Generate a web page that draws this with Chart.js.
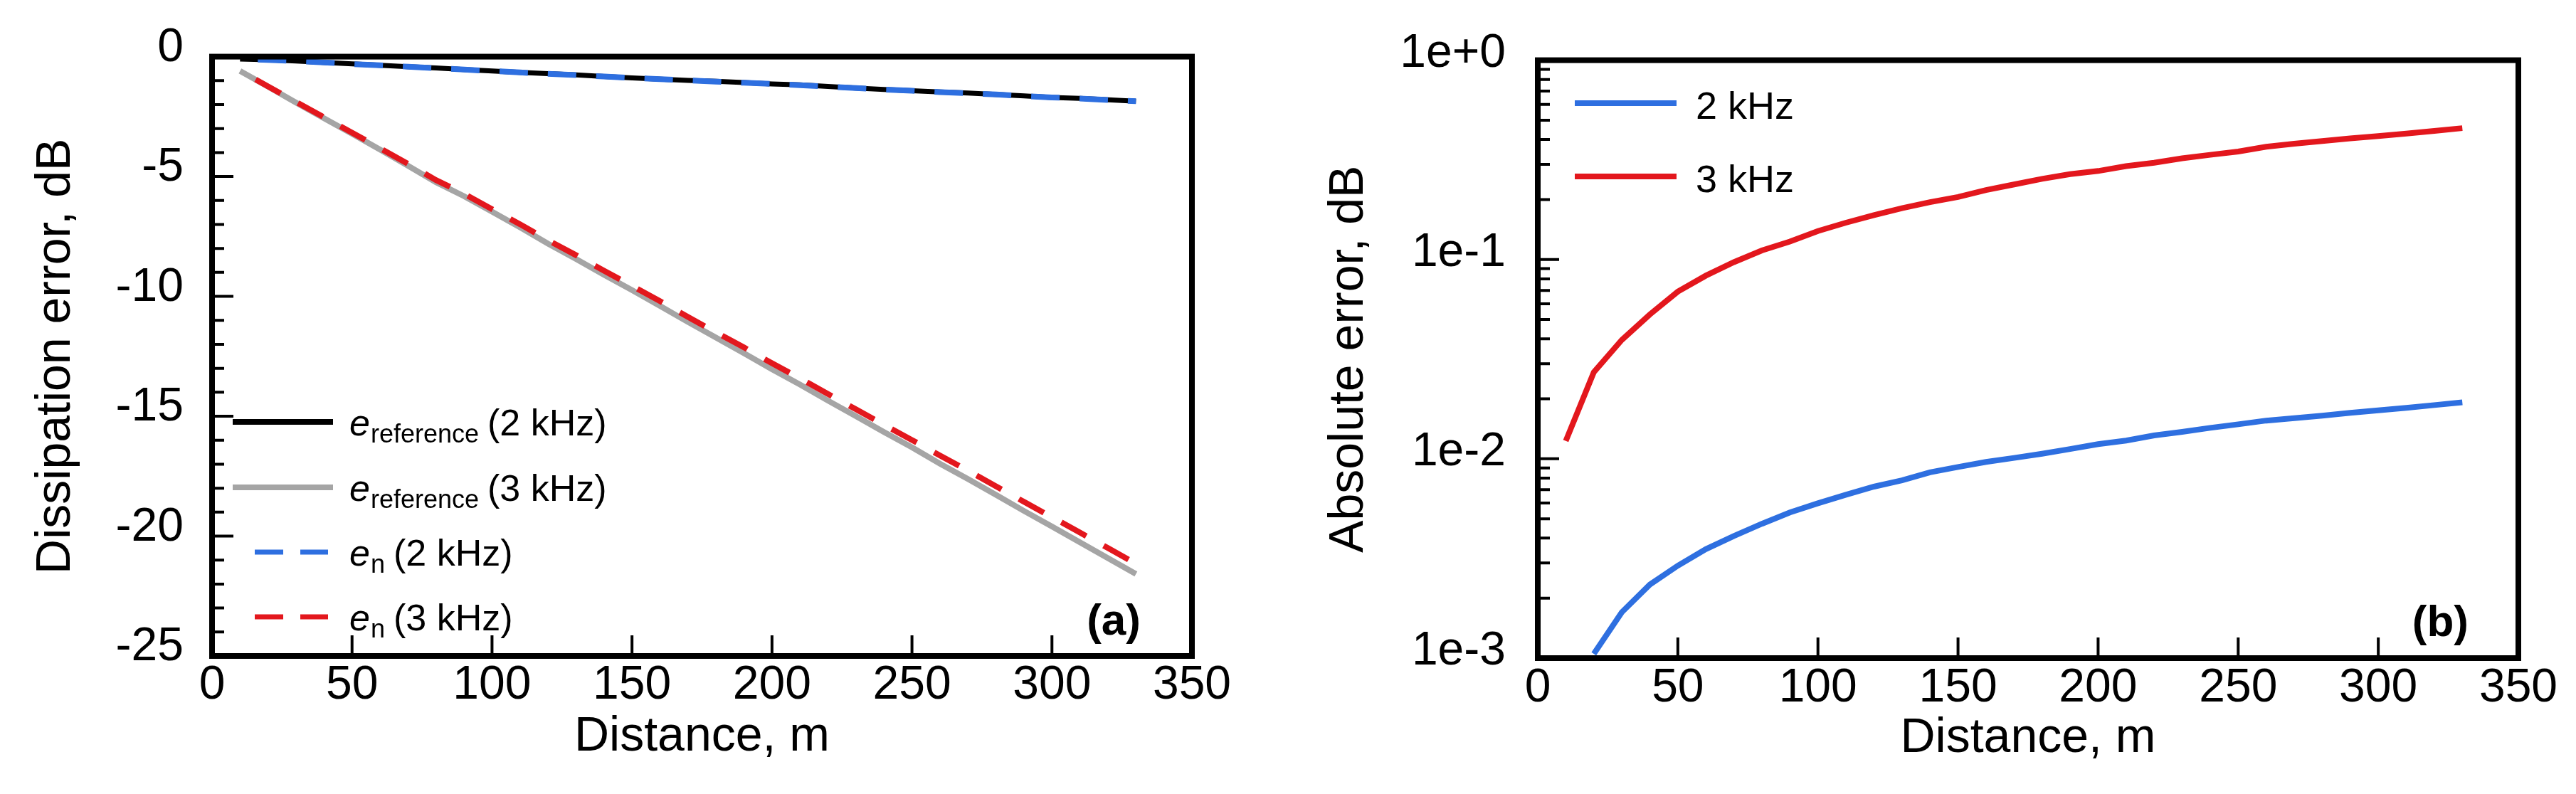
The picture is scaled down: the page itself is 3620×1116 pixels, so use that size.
<!DOCTYPE html>
<html>
<head>
<meta charset="utf-8">
<script src="https://cdn.jsdelivr.net/npm/chart.js@4.4.0/dist/chart.umd.min.js"></script>
<style>
  html, body { margin: 0; padding: 0; background: #fff; }
  body { width: 3620px; height: 1116px; position: relative; overflow: hidden; }
  canvas { position: absolute; top: 0; }
  #chartA { left: 0; }
  #chartB { left: 1800px; }
</style>
</head>
<body>
<canvas id="chartA" width="1800" height="1116"></canvas>
<canvas id="chartB" width="1820" height="1116"></canvas>
<script>
// distance along the path, m
var distance = [10, 20, 30, 40, 50, 60, 70, 80, 90, 100, 110, 120, 130, 140, 150, 160, 170,
  180, 190, 200, 210, 220, 230, 240, 250, 260, 270, 280, 290, 300, 310, 320, 330];

// (a) dissipation error, dB
var refErr2k = [-0.10, -0.13, -0.18, -0.24, -0.30, -0.36, -0.42, -0.47, -0.54, -0.60, -0.66, -0.71, -0.76,
  -0.83, -0.89, -0.94, -0.99, -1.03, -1.08, -1.14, -1.18, -1.24, -1.31, -1.37, -1.42, -1.47, -1.52,
  -1.58, -1.64, -1.70, -1.74, -1.80, -1.86];
var refErr3k = [-0.60, -1.25, -1.92, -2.57, -3.22, -3.88, -4.55, -5.24, -5.82, -6.47, -7.12, -7.80, -8.44,
  -9.10, -9.74, -10.40, -11.07, -11.72, -12.37, -13.04, -13.68, -14.35, -15.00, -15.66, -16.30, -16.98,
  -17.62, -18.28, -18.95, -19.60, -20.26, -20.92, -21.58];
var numErr2k = [-0.10, -0.14, -0.18, -0.24, -0.31, -0.36, -0.42, -0.48, -0.54, -0.60, -0.66, -0.72, -0.77,
  -0.83, -0.89, -0.94, -0.99, -1.04, -1.09, -1.14, -1.19, -1.25, -1.31, -1.37, -1.42, -1.48, -1.53,
  -1.58, -1.64, -1.70, -1.75, -1.81, -1.86];
var numErr3k = [-0.60, -1.24, -1.89, -2.53, -3.17, -3.82, -4.47, -5.15, -5.72, -6.36, -6.99, -7.66, -8.28,
  -8.93, -9.56, -10.20, -10.86, -11.50, -12.13, -12.79, -13.42, -14.07, -14.71, -15.36, -15.99, -16.64,
  -17.27, -17.92, -18.57, -19.21, -19.85, -20.50, -21.15];

// (b) absolute error, dB
var absErr2k = [null, 0.00105, 0.00170, 0.00234, 0.00291, 0.00352, 0.00410, 0.00472, 0.00538, 0.00598,
  0.00660, 0.00725, 0.00780, 0.00855, 0.00910, 0.00965, 0.01010, 0.01060, 0.01120, 0.01185, 0.01235,
  0.01310, 0.01365, 0.01430, 0.01490, 0.01555, 0.01600, 0.01645, 0.01700, 0.01750, 0.01800, 0.01860, 0.01920];
var absErr3k = [0.0123, 0.0272, 0.0395, 0.0530, 0.0690, 0.0830, 0.0970, 0.1110, 0.1230, 0.1390, 0.1530,
  0.1670, 0.1810, 0.1940, 0.2060, 0.2230, 0.2380, 0.2540, 0.2680, 0.2780, 0.2940, 0.3060, 0.3220,
  0.3350, 0.3480, 0.3680, 0.3810, 0.3930, 0.4050, 0.4160, 0.4280, 0.4420, 0.4560];

var xTicks = [0, 50, 100, 150, 200, 250, 300, 350];
var xTickLabels = ['0', '50', '100', '150', '200', '250', '300', '350'];
var yTicksA = [-25, -20, -15, -10, -5, 0];
var yTickLabelsA = ['-25', '-20', '-15', '-10', '-5', '0'];
var yTicksB = [0.001, 0.01, 0.1, 1];
var yTickLabelsB = ['1e-3', '1e-2', '1e-1', '1e+0'];

var legendSubA = ['reference', 'reference', 'n', 'n'];
var legendFreqA = ['(2 kHz)', '(3 kHz)', '(2 kHz)', '(3 kHz)'];
var legendNamesB = ['2 kHz', '3 kHz'];

var FONT = "'Liberation Sans', Arial, sans-serif";
var BLUE = '#2e6fe0', RED = '#e3171d', GRAY = '#a5a5a5';
Chart.defaults.font.family = FONT;
Chart.defaults.color = '#000';

function xy(xs, ys) {
  var pts = [];
  for (var i = 0; i < xs.length; i++) {
    if (ys[i] !== null) pts.push({x: xs[i], y: ys[i]});
  }
  return pts;
}

// frame, inward ticks, legend and panel letter
function panelDecor(opts) {
  return {
    id: 'panelDecor',
    afterDraw: function(chart) {
      var ctx = chart.ctx, a = chart.chartArea;
      var xs = chart.scales.x, ys = chart.scales.y;
      ctx.save();
      ctx.strokeStyle = '#000';
      ctx.lineWidth = 4;
      ctx.beginPath();
      xs.ticks.forEach(function(t) {
        var px = xs.getPixelForValue(t.value);
        ctx.moveTo(px, a.bottom); ctx.lineTo(px, a.bottom - 29);
      });
      ys.ticks.forEach(function(t) {
        var py = ys.getPixelForValue(t.value);
        ctx.moveTo(a.left, py); ctx.lineTo(a.left + 30, py);
      });
      opts.minorY.forEach(function(v) {
        var py = ys.getPixelForValue(v);
        ctx.moveTo(a.left, py); ctx.lineTo(a.left + 17, py);
      });
      ctx.stroke();
      ctx.lineWidth = 8;
      ctx.strokeRect(a.left, a.top, a.right - a.left, a.bottom - a.top);

      opts.legend(ctx, chart);

      ctx.fillStyle = '#000';
      ctx.font = 'bold 62px ' + FONT;
      ctx.textAlign = 'right';
      ctx.textBaseline = 'alphabetic';
      ctx.fillText(opts.tag, opts.tagX, opts.tagY);
      ctx.restore();
    }
  };
}

function legendA(ctx, chart) {
  var rows = [593, 685, 776, 867];
  // legend rows: ref 2k, ref 3k, num 2k, num 3k
  var ds = [chart.data.datasets[2], chart.data.datasets[3], chart.data.datasets[1], chart.data.datasets[0]];
  ctx.textAlign = 'left';
  ctx.textBaseline = 'alphabetic';
  ctx.fillStyle = '#000';
  for (var i = 0; i < 4; i++) {
    var y = rows[i];
    ctx.strokeStyle = ds[i].borderColor;
    ctx.beginPath();
    if (ds[i].borderDash) {
      ctx.lineWidth = 7;
      ctx.setLineDash([40, 24]);
      ctx.moveTo(358, y); ctx.lineTo(461, y);
    } else {
      ctx.lineWidth = 8;
      ctx.setLineDash([]);
      ctx.moveTo(327, y); ctx.lineTo(468, y);
    }
    ctx.stroke();
    ctx.setLineDash([]);
    var x = 491;
    ctx.font = 'italic 52px ' + FONT;
    ctx.fillText('e', x, y + 19);
    x += ctx.measureText('e').width + 1;
    ctx.font = '36px ' + FONT;
    ctx.fillText(legendSubA[i], x, y + 29);
    x += ctx.measureText(legendSubA[i]).width + 12;
    ctx.font = '52px ' + FONT;
    ctx.fillText(legendFreqA[i], x, y + 19);
  }
}

function legendB(ctx, chart) {
  var rows = [145, 248];
  ctx.textAlign = 'left';
  ctx.textBaseline = 'alphabetic';
  ctx.fillStyle = '#000';
  ctx.font = '54px ' + FONT;
  for (var i = 0; i < 2; i++) {
    ctx.strokeStyle = chart.data.datasets[i].borderColor;
    ctx.lineWidth = 8;
    ctx.beginPath();
    ctx.moveTo(413, rows[i]); ctx.lineTo(556, rows[i]);
    ctx.stroke();
    ctx.fillText(legendNamesB[i], 583, rows[i] + 22);
  }
}

var minorA = [];
for (var v = -24; v < 0; v++) { if (v % 5 !== 0) minorA.push(v); }
var minorB = [];
[0.001, 0.01, 0.1].forEach(function(d) {
  for (var k = 2; k <= 9; k++) minorB.push(d * k);
});

function xScale(height, pad, titlePad) {
  return {
    type: 'linear', min: 0, max: 350,
    afterBuildTicks: function(s) { s.ticks = xTicks.map(function(v) { return {value: v}; }); },
    afterFit: function(s) { s.height = height; },
    grid: { display: false, drawTicks: false },
    border: { display: false },
    ticks: { padding: pad, font: { size: 66 }, color: '#000', autoSkip: false, maxRotation: 0,
      callback: function(v, i) { return xTickLabels[i]; } },
    title: { display: true, text: 'Distance, m', font: { size: 68 }, color: '#000',
      padding: { top: 0, bottom: titlePad } }
  };
}

new Chart(document.getElementById('chartA'), {
  type: 'line',
  data: {
    datasets: [
      { label: 'e_n (3 kHz)', data: xy(distance, numErr3k), borderColor: RED, borderWidth: 8,
        borderDash: [40, 28], borderDashOffset: 43, order: 1 },
      { label: 'e_n (2 kHz)', data: xy(distance, numErr2k), borderColor: BLUE, borderWidth: 8,
        borderDash: [40, 28], borderDashOffset: 43, order: 2 },
      { label: 'e_reference (2 kHz)', data: xy(distance, refErr2k), borderColor: '#000', borderWidth: 7, order: 3 },
      { label: 'e_reference (3 kHz)', data: xy(distance, refErr3k), borderColor: GRAY, borderWidth: 8, order: 4 }
    ]
  },
  options: {
    responsive: false, animation: false, devicePixelRatio: 1,
    layout: { padding: { top: 75, right: 125, bottom: 0, left: 0 } },
    elements: { point: { radius: 0 }, line: { tension: 0, borderCapStyle: 'butt' } },
    plugins: { legend: { display: false }, tooltip: { enabled: false } },
    scales: {
      x: xScale(194, 2, 39),
      y: {
        type: 'linear', min: -25, max: 0,
        afterBuildTicks: function(s) { s.ticks = yTicksA.map(function(v) { return {value: v}; }); },
        afterFit: function(s) { s.width = 298; },
        grid: { display: false, drawTicks: false },
        border: { display: false },
        ticks: { padding: 40, labelOffset: -12, font: { size: 66 }, color: '#000', autoSkip: false,
          callback: function(v, i) { return yTickLabelsA[i]; } },
        title: { display: true, text: 'Dissipation error, dB', font: { size: 68 }, color: '#000',
          padding: { top: 38, bottom: 0 } }
      }
    }
  },
  plugins: [panelDecor({ minorY: minorA, legend: legendA, tag: '(a)', tagX: 1603, tagY: 892 })]
});

new Chart(document.getElementById('chartB'), {
  type: 'line',
  data: {
    datasets: [
      { label: '2 kHz', data: xy(distance, absErr2k), borderColor: BLUE, borderWidth: 8 },
      { label: '3 kHz', data: xy(distance, absErr3k), borderColor: RED, borderWidth: 8 }
    ]
  },
  options: {
    responsive: false, animation: false, devicePixelRatio: 1,
    layout: { padding: { top: 80, right: 81, bottom: 0, left: 0 } },
    elements: { point: { radius: 0 }, line: { tension: 0, borderCapStyle: 'butt' } },
    plugins: { legend: { display: false }, tooltip: { enabled: false } },
    scales: {
      x: xScale(191, 3, 37),
      y: {
        type: 'logarithmic', min: 0.001, max: 1,
        afterBuildTicks: function(s) { s.ticks = yTicksB.map(function(v) { return {value: v}; }); },
        afterFit: function(s) { s.width = 361; },
        grid: { display: false, drawTicks: false },
        border: { display: false },
        ticks: { padding: 45, labelOffset: -9, font: { size: 66 }, color: '#000', autoSkip: false,
          callback: function(v, i) { return yTickLabelsB[i]; } },
        title: { display: true, text: 'Absolute error, dB', font: { size: 68 }, color: '#000',
          padding: { top: 55, bottom: 0 } }
      }
    }
  },
  plugins: [panelDecor({ minorY: minorB, legend: legendB, tag: '(b)', tagX: 1669, tagY: 894 })]
});
</script>
</body>
</html>
